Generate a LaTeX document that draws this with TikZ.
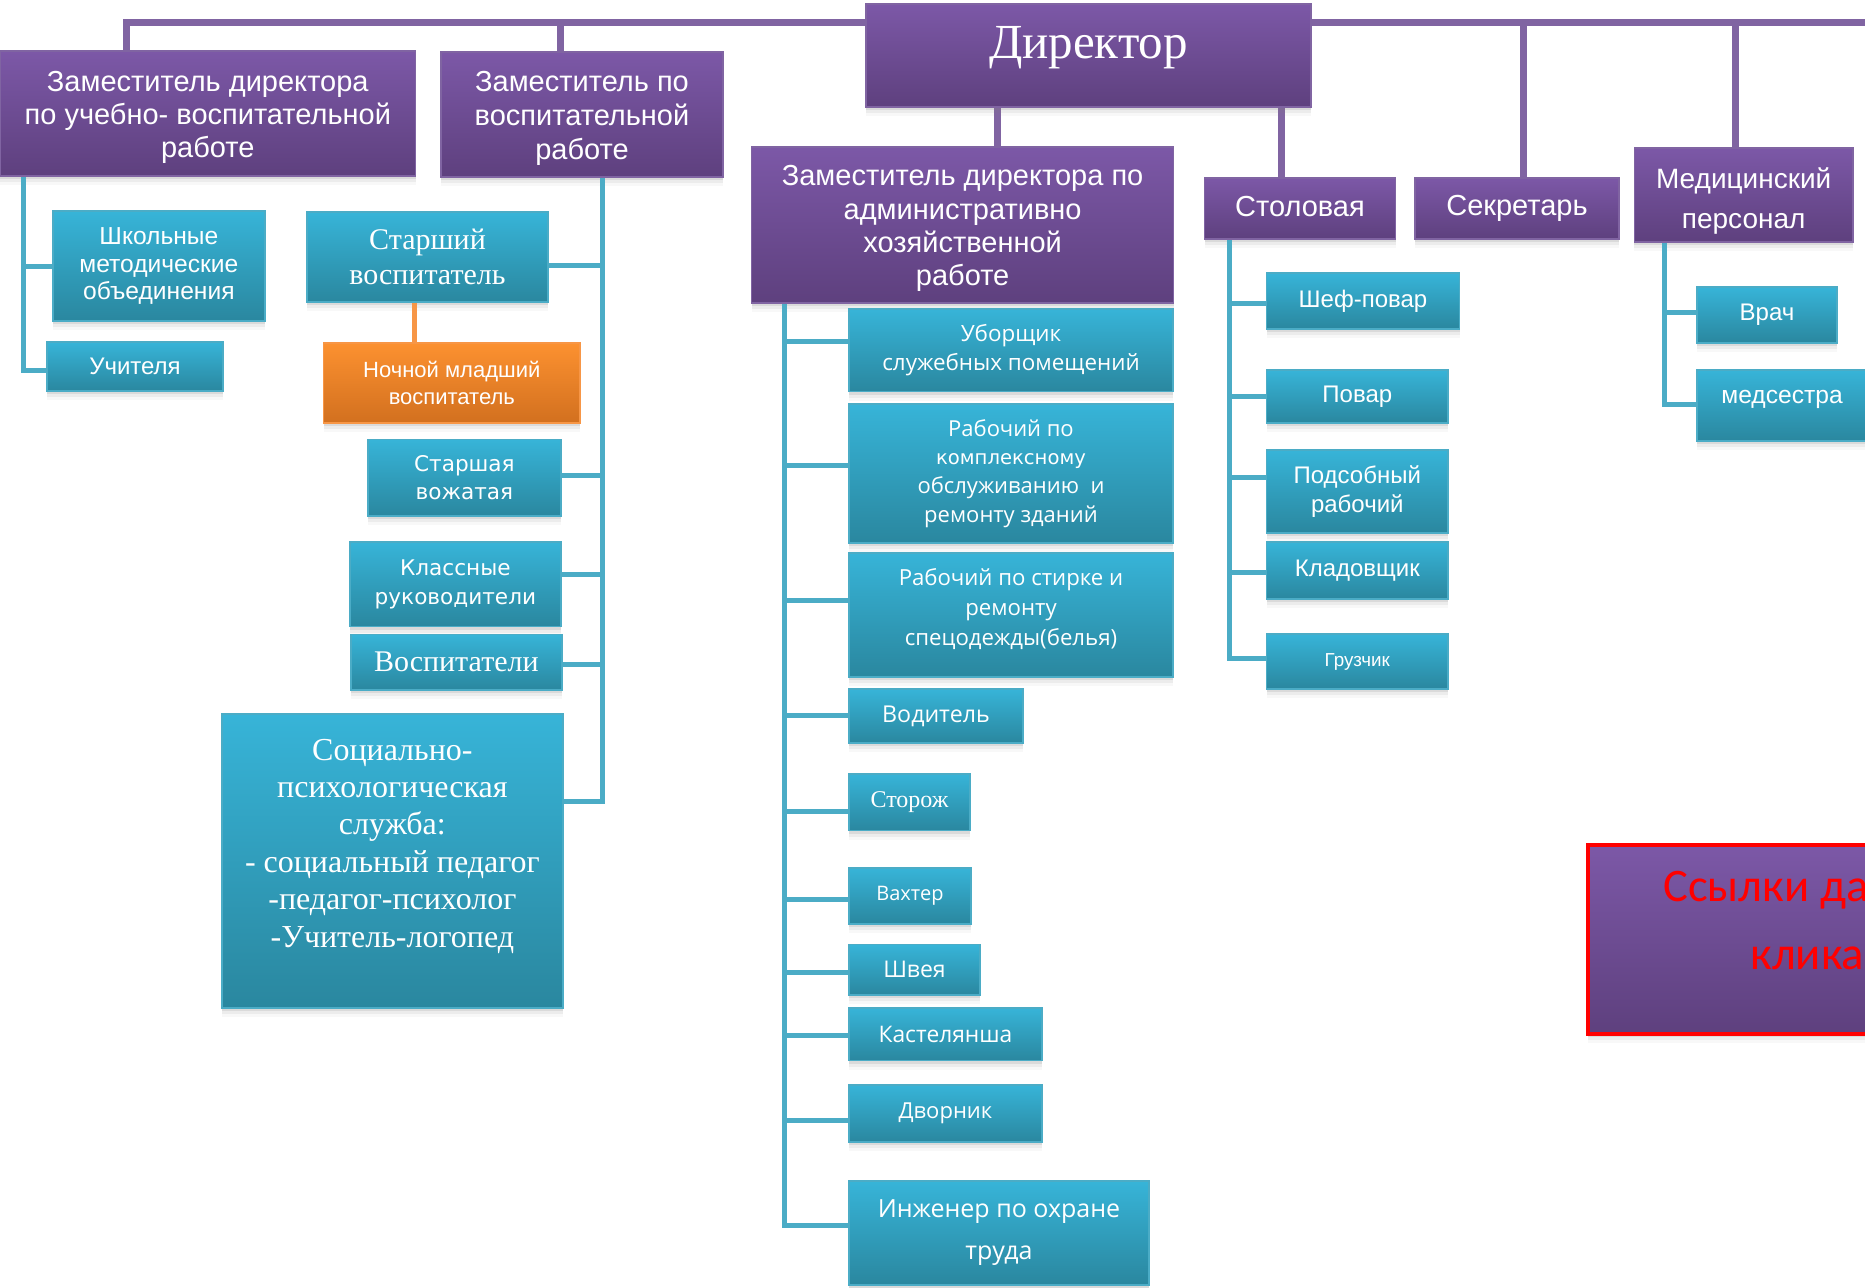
\documentclass[tikz,border=0pt]{standalone}
\usepackage{fontspec}
\setmainfont{Liberation Sans}
\newfontfamily\tnr{Liberation Serif}
\newfontfamily\verd{DejaVu Sans}
\newfontfamily\segoe{Open Sans}
\newfontfamily\calib{Carlito}
\usetikzlibrary{shadows}
\definecolor{purpT}{HTML}{7C58A7}
\definecolor{purpB}{HTML}{5E407E}
\definecolor{purpL}{HTML}{8064A2}
\definecolor{tealT}{HTML}{37B4D8}
\definecolor{tealB}{HTML}{2A879F}
\definecolor{tealL}{HTML}{4BACC6}
\definecolor{orT}{HTML}{FC9130}
\definecolor{orB}{HTML}{D2701F}
\definecolor{orL}{HTML}{F79646}
\definecolor{linkred}{HTML}{FF0000}
\newcommand\fsz[2]{\fontsize{#1}{#2}\selectfont}
\tikzset{
 boxbase/.style={rectangle, inner sep=2pt, align=center, text=white, line width=0.8pt,
   drop shadow={opacity=0.16, shadow xshift=0pt, shadow yshift=-1.5pt},
   drop shadow={opacity=0.10, shadow xshift=0pt, shadow yshift=-3pt},
   drop shadow={opacity=0.06, shadow xshift=0pt, shadow yshift=-4.5pt}},
 pbox/.style={boxbase, draw=purpL, top color=purpT, bottom color=purpB},
 tbox/.style={boxbase, draw=tealL, top color=tealT, bottom color=tealB},
 obox/.style={boxbase, draw=orL, top color=orT, bottom color=orB},
 sz/.style 2 args={minimum width=#1pt, minimum height=#2pt},
 boxtext/.style={align=center, text=white, inner sep=0pt},
 pline/.style={draw=purpL, line width=3.5pt},
 tline/.style={draw=tealL, line width=2.5pt},
 oline/.style={draw=orL, line width=2.5pt},
 linktext/.style={anchor=base west, text=linkred, inner sep=0pt, font=\calib\fsz{23.3pt}{28pt}},
}
\begin{document}
\begin{tikzpicture}[x=0.5pt, y=-0.5pt]
\useasboundingbox (0,0) rectangle (1865,1287);
% coordinates for connector lines
\coordinate (bL) at (126,22);
\coordinate (bR) at (1870,22);
\coordinate (d2) at (560,22);
\coordinate (d3) at (1523,22);
\coordinate (d4) at (1735,22);
\coordinate (d5) at (997.6,0);
\coordinate (d6) at (1281.7,0);
\coordinate (tz1) at (23,0);
\coordinate (tz2) at (602,0);
\coordinate (tz3) at (784,0);
\coordinate (tz4) at (1229,0);
\coordinate (tz5) at (1664,0);
\coordinate (to) at (414,0);

% placeholders of the top boxes, so the purple lines can run behind them
\path (1088.5,55.5) node[minimum width=222.5pt, minimum height=51.5pt] (dir) {};
\path (207.8,113.5) node[minimum width=207.8pt, minimum height=62.5pt] (zam1) {};
\path (582,114.5) node[minimum width=141pt, minimum height=62.5pt] (zam2) {};
\path (962.6,225) node[minimum width=211pt, minimum height=78pt] (zamahr) {};
\path (1300,208.5) node[minimum width=95.5pt, minimum height=30.5pt] (stol) {};
\path (1517,208.5) node[minimum width=102pt, minimum height=30.5pt] (sekr) {};
\path (1743.7,195) node[minimum width=109.25pt, minimum height=47pt] (med) {};

% purple connectors
\draw[pline] (bL |- zam1.north) -- (bL) -- (bR);
\draw[pline] (d2) -- (d2 |- zam2.north);
\draw[pline] (d3) -- (d3 |- sekr.north);
\draw[pline] (d4) -- (d4 |- med.north);
\draw[pline] (d5 |- dir.south) -- (d5 |- zamahr.north);
\draw[pline] (d6 |- dir.south) -- (d6 |- stol.north);

% top level boxes
\node[pbox, sz={222.5}{51.5}, font=\tnr\fsz{24.5pt}{28pt}] (dir) at (1088.5,55.5) {\raisebox{4pt}[\height][\depth]{Директор}};
\node[pbox, sz={207.8}{62.5}] (zam1) at (207.8,113.5) {};
\node[boxtext, font=\fsz{14.5pt}{16.6pt}] (zam1t) at ([yshift=-1.8pt]zam1.center) {Заместитель директора\\по учебно- воспитательной\\работе};
\node[pbox, sz={141}{62.5}] (zam2) at (582,114.5) {};
\node[boxtext, font=\fsz{14.5pt}{17pt}] (zam2t) at ([yshift=-1.8pt]zam2.center) {Заместитель по\\воспитательной\\работе};
\node[pbox, sz={211}{78}] (zamahr) at (962.6,225) {};
\node[boxtext, font=\fsz{14.5pt}{16.65pt}] (zamahrt) at ([yshift=-1.8pt]zamahr.center) {Заместитель директора по\\административно\\хозяйственной\\работе};
\node[pbox, sz={95.5}{30.5}, font=\fsz{14.5pt}{17pt}] (stol) at (1300,208.5) {\raisebox{1pt}[\height][\depth]{Столовая}};
\node[pbox, sz={102}{30.5}, font=\fsz{14.5pt}{17pt}] (sekr) at (1517,208.5) {Секретарь};
\node[pbox, sz={109.25}{47}] (med) at (1743.7,195) {};
\node[boxtext, font=\fsz{14pt}{20pt}] (medt) at ([yshift=-2.8pt]med.center) {Медицинский\\персонал};

% left column (zam1)
\node[tbox, sz={106}{55}, font=\fsz{12.3pt}{13.7pt}] (shkol) at (158.9,266) {Школьные\\методические\\объединения};
\node[tbox, sz={88}{24.5}, font=\fsz{12pt}{14pt}] (uchit) at (135,366.5) {Учителя};

% zam2 column
\node[tbox, sz={120.5}{45}, font=\tnr\fsz{15pt}{17.2pt}] (starvosp) at (427.5,257) {Старший\\воспитатель};
\node[obox, sz={128.25}{40}, font=\fsz{11pt}{13.7pt}] (noch) at (451.8,383) {Ночной младший\\воспитатель};
\node[tbox, sz={96.6}{38.25}, font=\verd\fsz{10.8pt}{14.3pt}] (vozh) at (464.4,477.8) {Старшая\\вожатая};
\node[tbox, sz={105.6}{42.3}, font=\verd\fsz{10.8pt}{14.3pt}] (klass) at (455.4,584.3) {Классные\\руководители};
\node[tbox, sz={105.6}{27.75}, font=\tnr\fsz{15pt}{17pt}] (vosp) at (456.4,662.3) {Воспитатели};
\node[tbox, sz={170.3}{147}] (soc) at (392.4,861) {};
\node[boxtext, font=\tnr\fsz{16pt}{18.7pt}] (soct) at ([yshift=7.5pt]soc.center) {Социально-\\психологическая\\служба:\\- социальный педагог\\-педагог-психолог\\-Учитель-логопед};

% zamahr column
\node[tbox, sz={162}{41.3}, font=\segoe\fsz{11.2pt}{14.3pt}] (ubor) at (1011,350.3) {Уборщик\\служебных помещений};
\node[tbox, sz={162}{69.5}, font=\segoe\fsz{11pt}{14.3pt}] (rabk) at (1011,473.5) {Рабочий по\\{\verd\fsz{9.8pt}{14.3pt}комплексному}\\обслуживанию\ \ и\\ремонту зданий};
\node[tbox, sz={162}{62}] (rabs) at (1011,614.7) {};
\node[boxtext, font=\segoe\fsz{11.1pt}{14.8pt}] (rabst) at ([yshift=2.8pt]rabs.center) {Рабочий по стирке и\\ремонту\\спецодежды(белья)};
\node[tbox, sz={87}{27}, font=\segoe\fsz{11.6pt}{14pt}] (vodit) at (936,716) {Водитель};
\node[tbox, sz={60.5}{28.25}, font=\tnr\fsz{12pt}{14pt}] (storozh) at (909.5,802.3) {Сторож};
\node[tbox, sz={60.8}{28}, font=\segoe\fsz{10pt}{12pt}] (vakhter) at (909.9,896) {Вахтер};
\node[tbox, sz={65.5}{25.25}, font=\segoe\fsz{11.5pt}{14pt}] (shveya) at (914.5,969.8) {Швея};
\node[tbox, sz={96.5}{26.3}, font=\segoe\fsz{11.4pt}{14pt}] (kastel) at (945.5,1034.3) {Кастелянша};
\node[tbox, sz={96.5}{28.5}, font=\segoe\fsz{11pt}{14pt}] (dvornik) at (945.5,1113.5) {Дворник};
\node[tbox, sz={150}{52}, font=\segoe\fsz{12.5pt}{21pt}] (inzh) at (999,1233) {Инженер по охране\\труда};

% stolovaya column
\node[tbox, sz={96.5}{28}, font=\fsz{12pt}{14pt}] (shef) at (1363,301) {Шеф-повар};
\node[tbox, sz={90.7}{26.5}, font=\fsz{12pt}{14pt}] (povar) at (1357.3,396.5) {Повар};
\node[tbox, sz={90.7}{41.5}, font=\fsz{12pt}{14.3pt}] (podsob) at (1357.3,491.5) {Подсобный\\рабочий};
\node[tbox, sz={90.7}{28.5}, font=\fsz{12pt}{14pt}] (klad) at (1357.3,570.5) {Кладовщик};
\node[tbox, sz={90.7}{27.5}, font=\fsz{9.4pt}{12pt}] (gruz) at (1357.3,661.5) {Грузчик};

% medical column
\node[tbox, sz={70}{28}, font=\fsz{12pt}{14pt}] (vrach) at (1767,315) {Врач};
\node[tbox, sz={85}{35.5}, font=\fsz{12.3pt}{14pt}] (medsestra) at (1782,405.5) {\raisebox{3pt}[\height][\depth]{медсестра}};

% links box
\node[boxbase, draw=linkred, line width=2pt, top color=purpT, bottom color=purpB, minimum width=260pt, minimum height=94.5pt, anchor=north west] (links) at (1586,842.7) {};
\node[linktext] (linkA) at (1663,901.7) {Ссылки да};
\node[linktext] (linkB) at (1750,969) {клика};

% teal connectors (trunk + branches; yshift in pt puts each branch where the original has it)
\draw[tline] (tz1 |- zam1.south) |- ([yshift=-1.75pt]uchit.west);
\draw[tline] (shkol.west) -- (shkol.west -| tz1);

\draw[tline] (tz2 |- zam2.south) |- ([yshift=30pt]soc.east);
\foreach \n/\s in {starvosp/-4.35, vozh/1.4, klass/5.15, vosp/-0.85}
  \draw[tline] ([yshift=\s pt]\n.east) -- ([yshift=\s pt]\n.east -| tz2);

\draw[oline] (to |- starvosp.south) -- (to |- noch.north);

\draw[tline] (tz3 |- zamahr.south) |- ([yshift=4pt]inzh.west);
\foreach \n/\s in {ubor/4.3, rabk/3.9, rabs/7.35, vodit/0.5, storozh/-4.65, vakhter/-1.5, shveya/-1.4, kastel/-0.35, dvornik/-3.25}
  \draw[tline] ([yshift=\s pt]\n.west) -- ([yshift=\s pt]\n.west -| tz3);

\draw[tline] (tz4 |- stol.south) |- ([yshift=1.75pt]gruz.west);
\foreach \n/\s in {shef/-1, povar/0.25, podsob/7.25, klad/-0.75}
  \draw[tline] ([yshift=\s pt]\n.west) -- ([yshift=\s pt]\n.west -| tz4);

\draw[tline] (tz5 |- med.south) |- ([yshift=0.75pt]medsestra.west);
\draw[tline] ([yshift=1.5pt]vrach.west) -- ([yshift=1.5pt]vrach.west -| tz5);
\end{tikzpicture}
\end{document}
